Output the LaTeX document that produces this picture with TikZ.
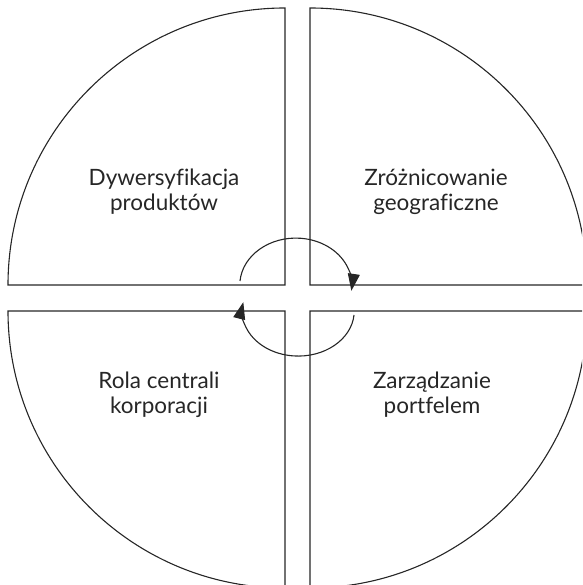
\documentclass[tikz,border=0pt]{standalone}
\usepackage{fontspec}
\setmainfont{Lato}[Ligatures=NoCommon]
\usepackage{xcolor}
\usetikzlibrary{arrows.meta}
\definecolor{ink}{HTML}{262626}

\begin{document}
\begin{tikzpicture}[x=1pt,y=1pt,
quad/.style={draw=ink,line width=1.1pt,line join=miter},
lbl/.style={align=center,text=ink,font=\fontsize{22.5}{25}\selectfont},
arr/.style={draw=ink,line width=1.1pt,-{Triangle[length=17pt,width=12pt]}}]
\useasboundingbox (0,0) rectangle (582,585);
\clip (0,0) rectangle (582,585);
% four quarter segments
\draw[quad] (285,300) -- (285,577) arc[start angle=90,end angle=180,radius=277pt] -- cycle;
\draw[quad] (310,300) -- (587,300) arc[start angle=0,end angle=90,radius=277pt] -- cycle;
\draw[quad] (285,274) -- (8,274) arc[start angle=180,end angle=270,radius=277pt] -- cycle;
\draw[quad] (310,274) -- (310,-3) arc[start angle=270,end angle=360,radius=277pt] -- cycle;
\node[lbl] (div) at (164,393) {Dywersyfikacja\\produktów};
\node[lbl] (geo) at (436,393) {Zróżnicowanie\\geograficzne};
\node[lbl] (hq) at (159,190) {Rola centrali\\korporacji};
\node[lbl] (port) at (432,190) {Zarządzanie\\portfelem};
% circular arrows
\coordinate (topstart) at (240,304);
\coordinate (botstart) at (354,270);
\draw[arr] (topstart) arc[start angle=175,end angle=-7,x radius=56pt,y radius=47pt];
\draw[arr] (botstart) arc[start angle=-5,end angle=-191.5,x radius=56pt,y radius=45pt];
\end{tikzpicture}
\end{document}
